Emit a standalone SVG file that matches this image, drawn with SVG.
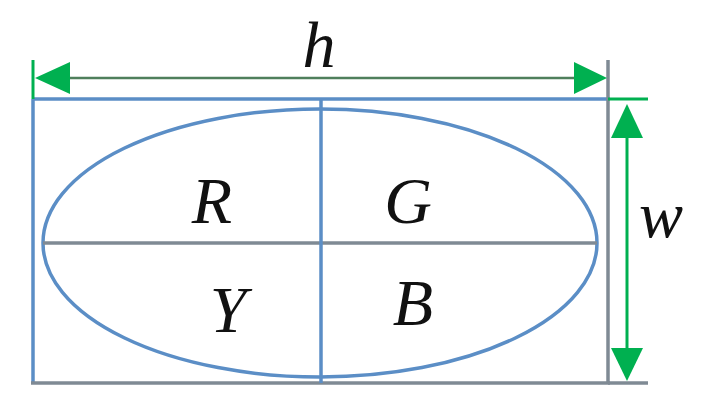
<svg xmlns="http://www.w3.org/2000/svg" width="712" height="415" viewBox="0 0 712 415">
<defs>
<style>
.blue{stroke:#5b8ec6;stroke-width:3.5;fill:none}
.gray{stroke:#7f8a94;stroke-width:3.5;fill:none}
.green{stroke:#00b050;stroke-width:3;fill:none}
.dim{stroke:#4f7f5c;stroke-width:2.5;fill:none}
.ah{fill:#00b050}
.lbl{font-family:"Liberation Serif","Times New Roman",serif;font-style:italic;font-size:66px;fill:#111;text-anchor:middle}
</style>
</defs>
<rect width="712" height="415" fill="#fff"/>
<g id="frame">
<line class="blue" x1="33" y1="99" x2="610" y2="99"/>
<line class="blue" x1="33" y1="99" x2="33" y2="384"/>
<line class="gray" x1="31" y1="383" x2="610" y2="383"/>
<line class="gray" x1="608" y1="60" x2="608" y2="384"/>
</g>
<g id="ellipse">
<ellipse class="blue" cx="320" cy="243" rx="277" ry="134"/>
<line class="gray" x1="43" y1="243" x2="597" y2="243"/>
<line class="blue" x1="321" y1="99" x2="321" y2="383"/>
</g>
<g id="connectors">
<line class="green" x1="33" y1="60" x2="33" y2="99"/>
<line class="dim" x1="60" y1="78" x2="580" y2="78"/>
<polygon class="ah" points="35,78 70,62 70,94"/>
<polygon class="ah" points="607,78 574,62 574,94"/>
<line class="green" x1="608" y1="99" x2="648" y2="99"/>
<line class="gray" x1="608" y1="383" x2="648" y2="383"/>
<line class="green" x1="627" y1="130" x2="627" y2="360"/>
<polygon class="ah" points="627,104 611,138 643,138"/>
<polygon class="ah" points="627,381 611,348 643,348"/>
</g>
<g id="labels">
<text class="lbl" x="319" y="67">h</text>
<text class="lbl" x="212" y="223">R</text>
<text class="lbl" x="408" y="223">G</text>
<text class="lbl" x="228" y="332">Y</text>
<text class="lbl" x="413" y="325">B</text>
<text class="lbl" x="661" y="237">w</text>
</g>
</svg>
